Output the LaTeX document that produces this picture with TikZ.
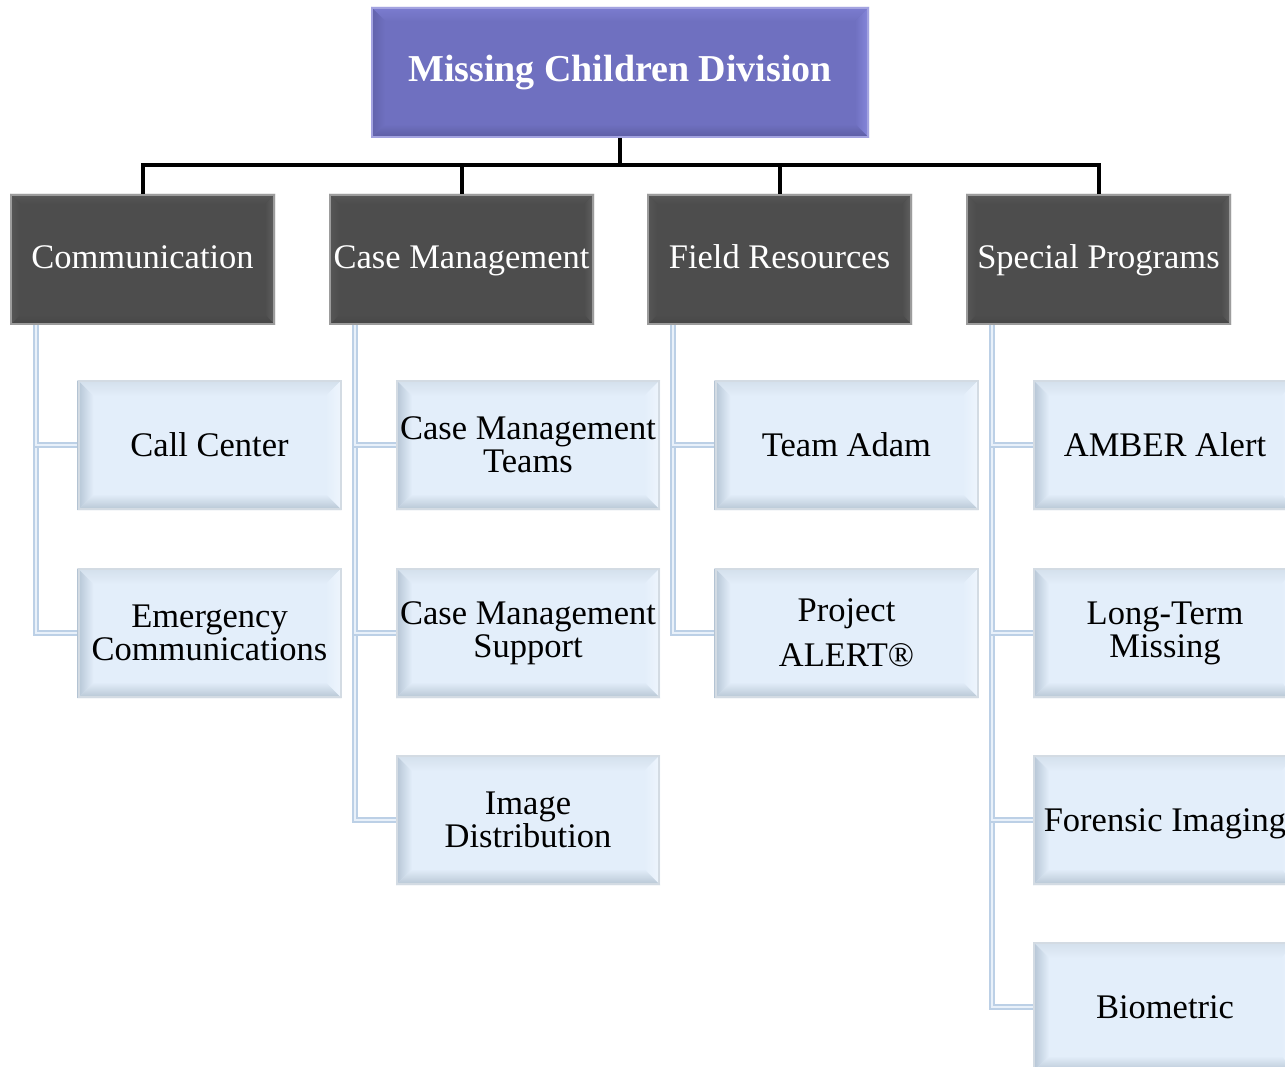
\documentclass[tikz,border=0pt]{standalone}
\usepackage{fontspec}
\setmainfont{Liberation Serif}
\usetikzlibrary{calc}
\pgfdeclarelayer{bg}
\pgfdeclarelayer{canvas}
\pgfsetlayers{canvas,bg,main}
\definecolor{tbase}{HTML}{6F70C0}
\definecolor{ttop}{HTML}{7C7DD0}
\definecolor{tright}{HTML}{8788DC}
\definecolor{tbottom}{HTML}{5C5DA2}
\definecolor{tleft}{HTML}{6162AA}
\definecolor{tborder}{HTML}{A3A3E0}
\definecolor{dbase}{HTML}{4D4D4D}
\definecolor{dtop}{HTML}{585858}
\definecolor{dright}{HTML}{616161}
\definecolor{dbottom}{HTML}{454545}
\definecolor{dleft}{HTML}{575757}
\definecolor{dborder}{HTML}{9C9C9C}
\definecolor{lbase}{HTML}{E3EEFA}
\definecolor{ltop}{HTML}{D3DFEB}
\definecolor{lright}{HTML}{EEF5FD}
\definecolor{lbottom}{HTML}{B6C5D3}
\definecolor{lleft}{HTML}{B4C4D4}
\definecolor{lborder}{HTML}{D3DBE3}
\definecolor{conout}{HTML}{BCD0E6}
\definecolor{conin}{HTML}{E9F1FA}
\newcommand\bevbox[7]{%
  \begin{pgfonlayer}{bg}
    \fill[#3] (#1.north west) rectangle (#1.south east);
    \shade[top color=#4,bottom color=#3] (#1.north west) -- (#1.north east) -- ($(#1.north east)+(-#2,-#2)$) -- ($(#1.north west)+(#2,-#2)$) -- cycle;
    \shade[left color=#3,right color=#5] (#1.north east) -- (#1.south east) -- ($(#1.south east)+(-#2,#2)$) -- ($(#1.north east)+(-#2,-#2)$) -- cycle;
    \shade[top color=#3,bottom color=#6] (#1.south east) -- (#1.south west) -- ($(#1.south west)+(#2,#2)$) -- ($(#1.south east)+(-#2,#2)$) -- cycle;
    \shade[left color=#7,right color=#3] (#1.south west) -- (#1.north west) -- ($(#1.north west)+(#2,-#2)$) -- ($(#1.south west)+(#2,#2)$) -- cycle;
  \end{pgfonlayer}}
\begin{document}
\begin{tikzpicture}[x=1pt,y=-1pt,
  tbox/.style={draw=tborder,line width=2pt,minimum width=496pt,minimum height=129pt,inner sep=0pt,
    text=white,font=\fontsize{38}{40}\selectfont\bfseries,align=center},
  dbox/.style={draw=dborder,line width=2pt,minimum width=263pt,minimum height=129pt,inner sep=0pt,
    text=white,font=\fontsize{34.5}{33}\selectfont,text height=23pt,text depth=5pt},
  lbox/.style={draw=lborder,line width=2pt,minimum width=262pt,minimum height=128pt,inner sep=0pt,
    text=black,font=\fontsize{34.5}{33}\selectfont,align=center},
  oneline/.style={align=none,text height=23pt,text depth=1pt},
  bconn/.style={draw=black,line width=4pt},
  lconn/.style={draw=conout,double=conin,line width=1.3pt,double distance=2.6pt}]
\useasboundingbox (0,0) rectangle (1285,1067);
\begin{pgfonlayer}{canvas}
\fill[white] (0,0) rectangle (1285,1067);
\end{pgfonlayer}

\node[tbox] (top) at (620,72.5) {Missing Children Division};
\bevbox{top}{14pt}{tbase}{ttop}{tright}{tbottom}{tleft}

\node[dbox] (d1) at (142.5,259.5) {Communication};
\node[dbox] (d2) at (461.5,259.5) {Case Management};
\node[dbox] (d3) at (779.5,259.5) {Field Resources};
\node[dbox] (d4) at (1098.5,259.5) {Special Programs};
\foreach \n in {d1,d2,d3,d4}{\bevbox{\n}{10pt}{dbase}{dtop}{dright}{dbottom}{dleft}}

\coordinate (bar) at (620,165);
\draw[bconn] (top.south) -- (bar);
\draw[bconn] (bar) -| (d1.north);
\draw[bconn] (bar) -| (d2.north);
\draw[bconn] (bar) -| (d3.north);
\draw[bconn] (bar) -| (d4.north);

% column 1
\node[lbox,oneline] (l11) at (209.5,445) {Call Center};
\node[lbox] (l12) at (209.5,633) {Emergency\\Communications};
% column 2
\node[lbox] (l21) at (528,445) {Case Management\\Teams};
\node[lbox] (l22) at (528,633) {Case Management\\Support};
\node[lbox] (l23) at (528,820) {Image\\Distribution};
% column 3
\node[lbox,oneline] (l31) at (846.5,445) {Team Adam};
\node[lbox] (l32) at (846.5,633) {Project\\[12pt]ALERT®};
% column 4
\node[lbox,oneline] (l41) at (1165,445) {AMBER Alert};
\node[lbox] (l42) at (1165,633) {Long-Term\\Missing};
\node[lbox,oneline] (l43) at (1165,820) {Forensic Imaging};
\node[lbox,oneline] (l44) at (1165,1007) {Biometric};
\foreach \n in {l11,l12,l21,l22,l23,l31,l32,l41,l42,l43,l44}{\bevbox{\n}{16pt}{lbase}{ltop}{lright}{lbottom}{lleft}}

\begin{pgfonlayer}{canvas}
\coordinate (c1) at ($(d1.south west)+(26pt,0pt)$);
\coordinate (c2) at ($(d2.south west)+(26pt,0pt)$);
\coordinate (c3) at ($(d3.south west)+(26pt,0pt)$);
\coordinate (c4) at ($(d4.south west)+(26pt,0pt)$);
\draw[lconn] (c1) |- (l12.west);
\draw[lconn] (c1) |- (l11.west);
\draw[lconn] (c2) |- (l23.west);
\draw[lconn] (c2) |- (l22.west);
\draw[lconn] (c2) |- (l21.west);
\draw[lconn] (c3) |- (l32.west);
\draw[lconn] (c3) |- (l31.west);
\draw[lconn] (c4) |- (l44.west);
\draw[lconn] (c4) |- (l43.west);
\draw[lconn] (c4) |- (l42.west);
\draw[lconn] (c4) |- (l41.west);
\end{pgfonlayer}
\end{tikzpicture}
\end{document}
